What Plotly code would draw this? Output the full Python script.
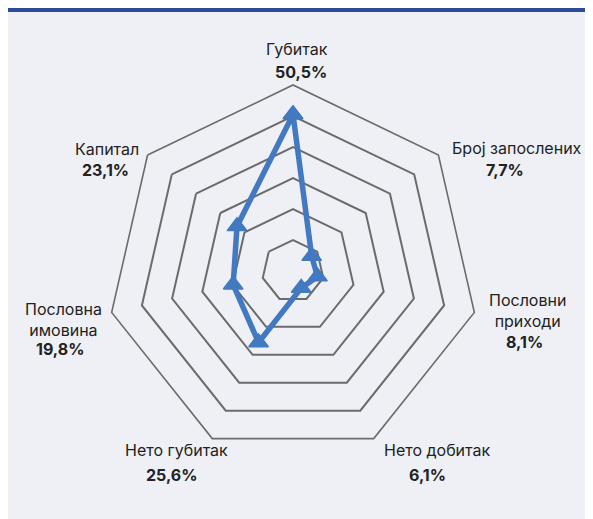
import plotly.graph_objects as go

categories = ["Губитак", "Број запослених", "Пословни приходи", "Нето добитак",
              "Нето губитак", "Пословна имовина", "Капитал"]
values = [50.5, 7.7, 8.1, 6.1, 25.6, 19.8, 23.1]
pct_labels = ["50,5%", "7,7%", "8,1%", "6,1%", "25,6%", "19,8%", "23,1%"]
name_labels = ["Губитак", "Број запослених", "Пословни<br>приходи", "Нето добитак",
               "Нето губитак", "Пословна<br>имовина", "Капитал"]
grid_vals = [10, 20, 30, 40, 50, 60]

W, H = 593, 519
OFF = 8  # page body margin
cx, cy, R = 293 - OFF, 271 - OFF, 186

fig = go.Figure()
fig.add_trace(go.Scatterpolar(
    r=values + [values[0]],
    theta=categories + [categories[0]],
    mode="lines+markers",
    line=dict(color="#4279c0", width=5.5),
    marker=dict(symbol="triangle-up", size=17, color="#4279c0",
                line=dict(color="#4279c0", width=1.5)),
    showlegend=False,
    hoverinfo="skip",
))

fig.update_layout(
    width=W, height=H,
    margin=dict(l=0, r=0, t=0, b=0),
    paper_bgcolor="#eef0f5",
    plot_bgcolor="rgba(0,0,0,0)",
    polar=dict(
        domain=dict(x=[(cx - R) / W, (cx + R) / W],
                    y=[(H - cy - R) / H, (H - cy + R) / H]),
        bgcolor="rgba(0,0,0,0)",
        gridshape="linear",
        radialaxis=dict(range=[0, 60], tickvals=grid_vals, showticklabels=False,
                        showline=False, ticks="", gridcolor="#6b6b6b", gridwidth=1.6),
        angularaxis=dict(direction="clockwise", rotation=90, showticklabels=False,
                         ticks="", showgrid=False, showline=True,
                         linecolor="#6b6b6b", linewidth=1.6),
    ),
    font=dict(family="Inter, Roboto, sans-serif", size=16, color="#222222"),
)

# top rule
fig.add_shape(type="line", xref="paper", yref="paper",
              x0=0, x1=1, y0=(H - 2) / H, y1=(H - 2) / H,
              line=dict(color="#2b4b96", width=4), layer="below")

# label positions (page pixels) for name and percentage
name_pos = [(297, 49), (517, 148), (527, 310), (437, 450), (176, 450), (63, 319), (107, 149)]
pct_pos = [(301, 72), (505, 170), (524, 342), (427, 475), (171, 475), (60, 349), (105, 170)]

for i in range(len(categories)):
    nx, ny = name_pos[i]
    px, py = pct_pos[i]
    fig.add_annotation(x=(nx - OFF) / W, y=1 - (ny - OFF) / H, xref="paper", yref="paper",
                       text=name_labels[i], showarrow=False,
                       xanchor="center", yanchor="middle",
                       font=dict(size=16, color="#222222"))
    fig.add_annotation(x=(px - OFF) / W, y=1 - (py - OFF) / H, xref="paper", yref="paper",
                       text="<b>" + pct_labels[i] + "</b>", showarrow=False,
                       xanchor="center", yanchor="middle",
                       font=dict(size=16, color="#222222"))

fig.write_html("out.html")
